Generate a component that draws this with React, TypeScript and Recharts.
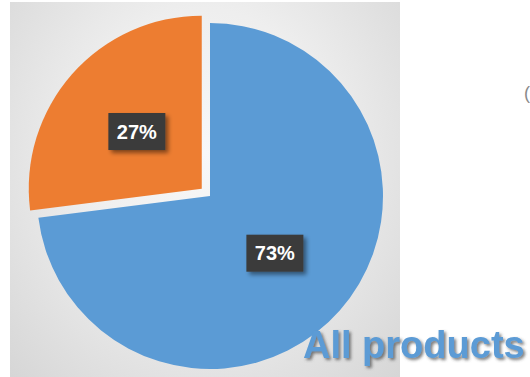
import React from "react";
import { PieChart, Pie, Cell } from "recharts";

const segments = ["All products", "Other"];
const shares = [73, 27];
const colors = ["#5b9bd5", "#ed7d31"];
const explodedIndex = 1;

const data = segments.map((name, i) => ({ name, value: shares[i] }));
const total = shares.reduce((a, b) => a + b, 0);

const RADIAN = Math.PI / 180;
const CX = 205;
const CY = 191;
const R = 173;
const EXPLODE = 11;

// mid angle of the exploded slice (recharts degrees, start at 90, clockwise)
const before = shares.slice(0, explodedIndex).reduce((a, b) => a + b, 0);
const midAngle = 90 - (360 * (before + shares[explodedIndex] / 2)) / total;
const offX = Math.cos(midAngle * RADIAN) * EXPLODE;
const offY = -Math.sin(midAngle * RADIAN) * EXPLODE;

function makeLabel(showIndex: number) {
  return (props: any) => {
    const { cx, cy, midAngle, outerRadius, percent, index } = props;
    if (index !== showIndex) return null;
    const r = outerRadius * 0.5;
    const x = cx + r * Math.cos(-midAngle * RADIAN);
    const y = cy + r * Math.sin(-midAngle * RADIAN);
    const w = 57;
    const h = 37;
    return (
      <g>
        <defs>
          <filter id={`boxShadow${index}`} x="-30%" y="-30%" width="160%" height="160%">
            <feDropShadow dx="3" dy="3" stdDeviation="2" floodColor="#000" floodOpacity="0.45" />
          </filter>
        </defs>
        <rect
          x={x - w / 2}
          y={y - h / 2}
          width={w}
          height={h}
          fill="#3a3a3a"
          filter={`url(#boxShadow${index})`}
        />
        <text
          x={x}
          y={y + 7}
          textAnchor="middle"
          fill="#ffffff"
          fontFamily="'Liberation Sans', Arial, sans-serif"
          fontWeight="bold"
          fontSize={20}
        >
          {`${Math.round(percent * 100)}%`}
        </text>
      </g>
    );
  };
}

export default function App() {
  return (
    <div style={{ position: "fixed", left: 0, top: 0, width: 530, height: 377, background: "#fff", overflow: "hidden" }}>
      <div
        style={{
          position: "absolute",
          left: 10,
          top: 2,
          width: 390,
          height: 375,
          background: "radial-gradient(ellipse at 50% 40%, #f8f8f8 0%, #eeeeee 45%, #d6d6d6 100%)",
        }}
      />
      <div style={{ position: "absolute", left: 0, top: 0 }}>
        <PieChart width={530} height={377}>
          <Pie
            data={data}
            dataKey="value"
            nameKey="name"
            cx={CX}
            cy={CY}
            outerRadius={R}
            startAngle={90}
            endAngle={-270}
            stroke="none"
            labelLine={false}
            label={makeLabel(0)}
            isAnimationActive={false}
          >
            {data.map((d, i) => (
              <Cell key={d.name} fill={i === explodedIndex ? "none" : colors[i]} />
            ))}
          </Pie>
          <Pie
            data={data}
            dataKey="value"
            nameKey="name"
            cx={CX + offX}
            cy={CY + offY}
            outerRadius={R}
            startAngle={90}
            endAngle={-270}
            stroke="none"
            labelLine={false}
            label={makeLabel(explodedIndex)}
            isAnimationActive={false}
          >
            {data.map((d, i) => (
              <Cell key={d.name} fill={i === explodedIndex ? colors[i] : "none"} />
            ))}
          </Pie>
        </PieChart>
      </div>
      <svg width={530} height={377} style={{ position: "absolute", left: 0, top: 0 }}>
        <defs>
          <filter id="titleShadow" x="-10%" y="-30%" width="120%" height="160%">
            <feDropShadow dx="2" dy="2" stdDeviation="1.5" floodColor="#444" floodOpacity="0.7" />
          </filter>
        </defs>
        <text
          x={303}
          y={358}
          fill="#5b9bd5"
          fontFamily="'Liberation Sans', Arial, sans-serif"
          fontWeight="bold"
          fontSize={38}
          filter="url(#titleShadow)"
        >
          All products
        </text>
        <text x={524} y={99} fill="#8a8a8a" fontFamily="'Liberation Sans', Arial, sans-serif" fontSize={18}>
          (
        </text>
      </svg>
    </div>
  );
}
